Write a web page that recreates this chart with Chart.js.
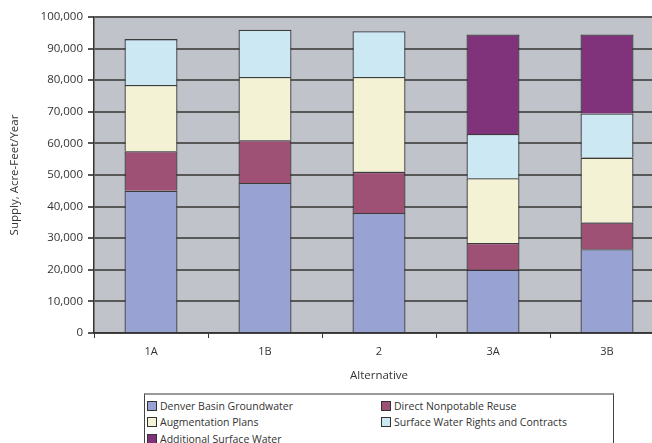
<!DOCTYPE html>
<html>
<head>
<meta charset="utf-8">
<script src="https://cdn.jsdelivr.net/npm/chart.js@4.4.0/dist/chart.umd.min.js"></script>
<style>
  html, body { margin: 0; padding: 0; overflow: hidden; background: #fff; }
  #wrap { position: relative; width: 680px; height: 443px; }
  #legend {
    position: absolute; left: 144px; top: 393px; width: 468px; height: 64px;
    border: 1px solid #444; border-top: 2px solid #9a9a9a; background: #fff;
  }
  .item { position: absolute; font: 10.5px 'Open Sans', sans-serif; color: #333; white-space: nowrap; line-height: 14px; }
  .sw { display: inline-block; width: 8px; height: 8px; border: 1px solid #333; margin-right: 3px; vertical-align: -1px; }
</style>
</head>
<body>
<div id="wrap">
  <canvas id="myBarChart" width="680" height="443"></canvas>
  <div id="legend"></div>
</div>
<script>
var alternatives = ['1A', '1B', '2', '3A', '3B'];
var denverBasin = [45000, 47500, 38000, 20000, 26500];
var directReuse = [12500, 13500, 13000, 8500, 8500];
var augmentation = [21000, 20000, 30000, 20500, 20500];
var surfaceRights = [14500, 15000, 14500, 14000, 14000];
var additionalSurface = [null, null, null, 31500, 25000];

var seriesNames = ['Denver Basin Groundwater', 'Direct Nonpotable Reuse', 'Augmentation Plans',
  'Surface Water Rights and Contracts', 'Additional Surface Water'];
var seriesColors = ['#99a3d3', '#9e5075', '#f3f2d4', '#cce8f3', '#80327a'];
var seriesValues = [denverBasin, directReuse, augmentation, surfaceRights, additionalSurface];

var _myChart = null;
var fontFam = "'Open Sans', sans-serif";

// to nen xam cho vung ve
var plotBg = {
  id: 'plotBg',
  beforeDraw: function (chart) {
    var a = chart.chartArea;
    var ctx = chart.ctx;
    ctx.save();
    ctx.fillStyle = '#c0c4ca';
    ctx.fillRect(a.left, a.top, a.right - a.left, a.bottom - a.top);
    ctx.restore();
  }
};

function buildBarChart() {
  var datasets = seriesValues.map(function (vals, i) {
    return {
      label: seriesNames[i],
      data: vals,
      backgroundColor: seriesColors[i],
      borderColor: 'rgba(45,45,45,0.9)',
      borderWidth: 1.3,
      categoryPercentage: 1,
      barPercentage: 0.465
    };
  });

  var ctx = document.getElementById('myBarChart').getContext('2d');
  _myChart = new Chart(ctx, {
    type: 'bar',
    data: { labels: alternatives, datasets: datasets },
    plugins: [plotBg],
    options: {
      responsive: false,
      animation: false,
      layout: { padding: { top: 17, right: 16, left: 0, bottom: 0 } },
      plugins: { legend: { display: false }, tooltip: { enabled: false } },
      scales: {
        x: {
          stacked: true,
          grid: { drawOnChartArea: false, drawTicks: true, tickLength: 5, color: '#333', offset: true },
          border: { color: '#333', width: 1.5 },
          ticks: { font: { family: fontFam, size: 11 }, color: '#333', padding: 7 },
          title: { display: true, text: 'Alternative', font: { family: fontFam, size: 11.5 }, color: '#333',
            padding: { top: 0, bottom: 60 } },
          afterFit: function (s) { s.height = 110; }
        },
        y: {
          stacked: true,
          min: 0,
          max: 100000,
          grid: { color: '#585858', lineWidth: 2, tickLength: 6 },
          border: { color: '#333', width: 1.5 },
          ticks: {
            stepSize: 10000,
            font: { family: fontFam, size: 11.5 },
            color: '#333',
            padding: 5,
            callback: function (value) {
              return value.toLocaleString('en-US');
            }
          },
          title: { display: true, text: 'Supply, Acre-Feet/Year', font: { family: fontFam, size: 11.5 }, color: '#333',
            padding: { top: 8, bottom: 0 } },
          afterFit: function (s) { s.width = 94; }
        }
      }
    }
  });
}

function buildLegend() {
  var box = document.getElementById('legend');
  var cols = [2, 236];
  var rows = [4, 20, 37];
  seriesNames.forEach(function (name, i) {
    var el = document.createElement('div');
    el.className = 'item';
    el.style.left = cols[i % 2] + 'px';
    el.style.top = rows[Math.floor(i / 2)] + 'px';
    el.innerHTML = '<span class="sw" style="background:' + seriesColors[i] + '"></span>' + name;
    box.appendChild(el);
  });
}

buildBarChart();
buildLegend();
</script>
</body>
</html>
